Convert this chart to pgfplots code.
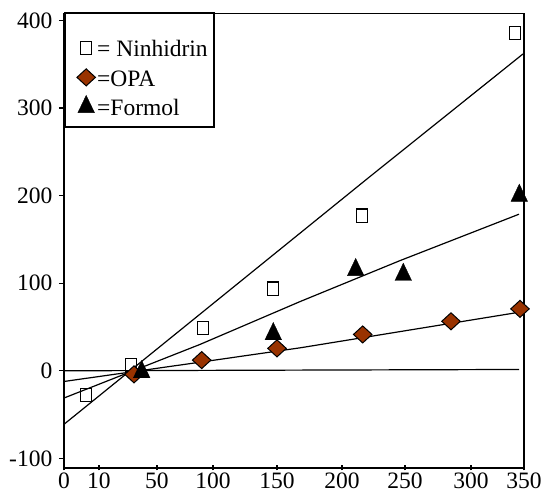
\documentclass[border=0pt]{standalone}
\usepackage{fontspec}
\setmainfont{Liberation Serif}
\usepackage{pgfplots}
\pgfplotsset{compat=1.18}
\definecolor{opa}{HTML}{993300}

% x positions follow the (non-uniform) printed axis: 0,10,50,100,...,350 at 0,35,93,149,213,278,341,407,460
\begin{document}
\begin{tikzpicture}
\useasboundingbox (-64pt,-29pt) rectangle (483pt,468pt);
\begin{axis}[
  at={(0pt,0pt)}, anchor=south west,
  scale only axis, width=460pt, height=454.5pt,
  xmin=0, xmax=460, ymin=-111, ymax=408,
  clip=false,
  axis line style={line width=1.3pt},
  tick align=outside, major tick length=5pt,
  tick style={line width=1.2pt, black},
  xtick style={yshift=2.5pt},
  xtick pos=left, ytick pos=left,
  xtick={0,35,93,149,213,278,341,407,460},
  xticklabels={0,10,50,100,150,200,250,300,350},
  ytick={-100,0,100,200,300,400},
  yticklabels={-100,0,100,200,300,400},
  tick label style={font=\fontsize{23.5}{28}\selectfont},
  xticklabel style={inner ysep=0pt},
  yticklabel style={inner xsep=6.5pt},
  legend image code/.code={\path[draw=none,fill=none] (-10pt,-12pt) rectangle (10pt,12pt); \draw[#1] plot coordinates {(0pt,0pt)};},
  legend cell align=left,
  legend style={at={(axis description cs:0.0261,0.9512)}, anchor=north west,
    draw=none, fill=none, inner sep=0pt, row sep=5.5pt, column sep=1pt,
    nodes={inner sep=0pt}, font=\fontsize{23.5}{28}\selectfont},
]
% fitted lines
\addplot[black, line width=1.2pt, forget plot] coordinates {(0,-61.1) (304,220) (459,361.8)};
\addplot[black, line width=1.2pt, forget plot] coordinates {(0,-31.1) (136,30.1) (236,79) (336,125.8) (455,178.8)};
\addplot[black, line width=1.2pt, forget plot] coordinates {(0,-12.2) (136,9.8) (236,26.2) (456,67)};
\addplot[black, line width=1.2pt, forget plot] coordinates {(0,0) (455,1.5)};
% legend box
\draw[line width=2pt, fill=white] (rel axis cs:0.0022,0.751) rectangle (rel axis cs:0.3261,1);
% data
\addplot[only marks, mark=square, mark size=6pt,
  mark options={xscale=0.9, yscale=1.1, line width=1.2pt, draw=black}]
  coordinates {(22,-27.4) (67,6.1) (139,49.1) (209.3,93.9) (297.7,177.3) (451,385.7)};
\addlegendentry{\rule[-4.5pt]{0pt}{24pt}= Ninhidrin}
\addplot[only marks, mark=diamond*, mark size=8.5pt,
  mark options={xscale=1.45, fill=opa, draw=black, line width=1pt}]
  coordinates {(70,-4.1) (137.7,12.2) (213,25.6) (298.7,41.5) (387,56.5) (456,70.7)};
\addlegendentry{\rule[-4.5pt]{0pt}{24pt}=OPA}
\addplot[only marks, mark=triangle*, mark size=11.5pt,
  mark options={xscale=0.83, fill=black, draw=black}]
  coordinates {(77.7,-1.4) (209.3,42) (291.7,115.2) (339.3,109.7) (455.3,200)};
\addlegendentry{\rule[-4.5pt]{0pt}{24pt}=Formol}
\end{axis}
\end{tikzpicture}
\end{document}
